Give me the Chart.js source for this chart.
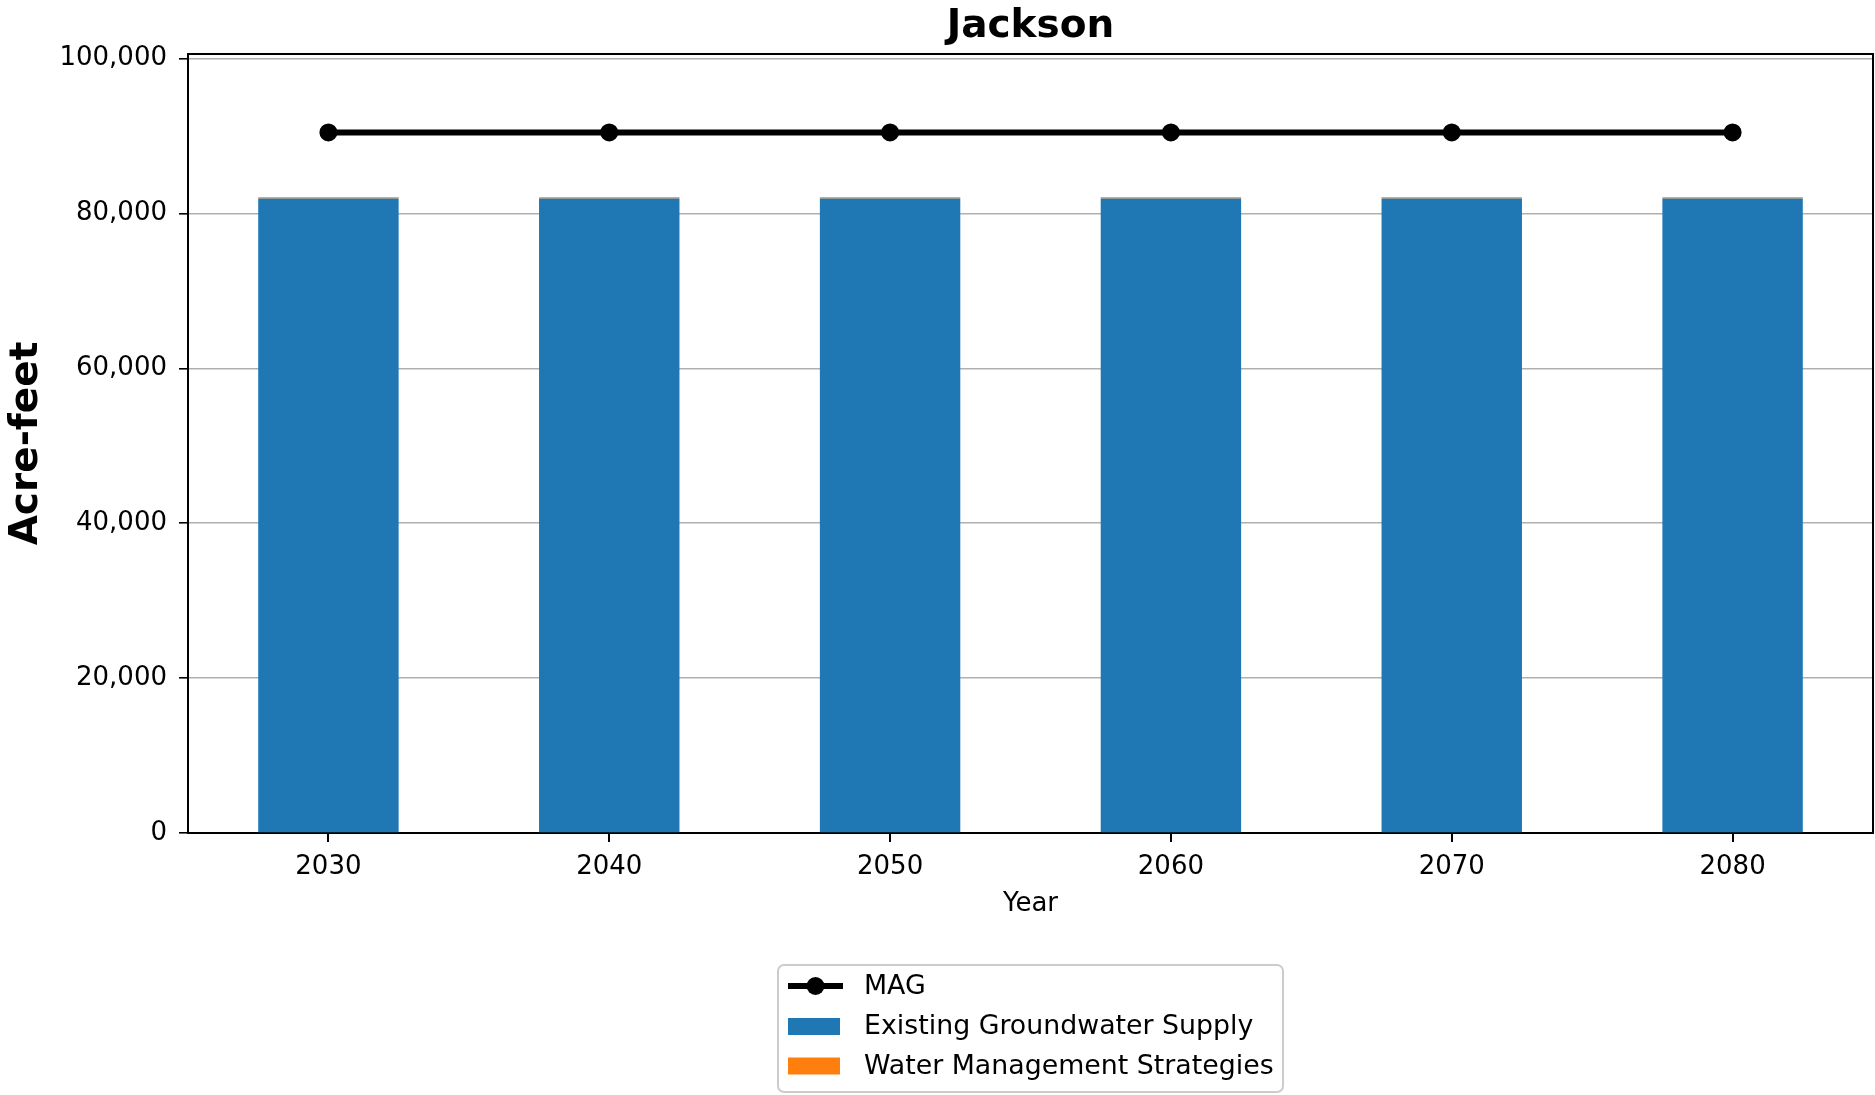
<!DOCTYPE html>
<html>
<head>
<meta charset="utf-8">
<title>Jackson</title>
<script src="https://cdn.jsdelivr.net/npm/chart.js@4.4.0/dist/chart.umd.min.js"></script>
<style>
  html, body { margin: 0; padding: 0; background: #fff; }
  #wrap { width: 1875px; height: 1095px; }
</style>
</head>
<body>
<div id="wrap"><canvas id="chart" width="1875" height="1095"></canvas></div>
<script>
// Chart data
const chartTitle = 'Jackson';
const years = ['2030', '2040', '2050', '2060', '2070', '2080'];
const existingSupply = [81950, 81950, 81950, 81950, 81950, 81950];
const strategies = [150, 150, 150, 150, 150, 150];
const mag = [90470, 90470, 90470, 90470, 90470, 90470];
const yTicks = [0, 20000, 40000, 60000, 80000, 100000];

const FONT = '"DejaVu Sans", "Liberation Sans", sans-serif';

// Title, top/right spines and the boxed legend under the plot
const extrasPlugin = {
    id: 'extras',
    afterDraw(chart) {
        const { ctx, chartArea: a } = chart;
        const cx = (a.left + a.right) / 2;
        ctx.save();

        ctx.fillStyle = '#000';
        ctx.font = 'bold 39px ' + FONT;
        ctx.textAlign = 'center';
        ctx.textBaseline = 'middle';
        ctx.fillText(chartTitle, cx, 27);

        ctx.strokeStyle = '#000';
        ctx.lineWidth = 2;
        ctx.beginPath();
        ctx.moveTo(a.left, a.top);
        ctx.lineTo(a.right, a.top);
        ctx.lineTo(a.right, a.bottom);
        ctx.stroke();

        // legend box
        const bw = 505, bh = 127;
        const bx = cx - bw / 2, by = 965;
        ctx.beginPath();
        ctx.roundRect(bx, by, bw, bh, 6);
        ctx.fillStyle = 'rgba(255,255,255,0.8)';
        ctx.fill();
        ctx.strokeStyle = '#cccccc';
        ctx.lineWidth = 2;
        ctx.stroke();

        const rows = [986, 1026.5, 1066];
        const hx = bx + 10, hw = 55;
        ctx.font = '26.8px ' + FONT;
        ctx.textAlign = 'left';
        ctx.textBaseline = 'middle';
        const order = [2, 0, 1]; // MAG first, then the bars
        order.forEach((di, i) => {
            const ds = chart.data.datasets[di];
            const y = rows[i];
            if (ds.type === 'line') {
                ctx.strokeStyle = ds.borderColor;
                ctx.lineWidth = ds.borderWidth;
                ctx.beginPath();
                ctx.moveTo(hx, y);
                ctx.lineTo(hx + hw, y);
                ctx.stroke();
                ctx.fillStyle = ds.pointBackgroundColor;
                ctx.beginPath();
                ctx.arc(hx + hw / 2, y, ds.pointRadius, 0, Math.PI * 2);
                ctx.fill();
            } else {
                ctx.fillStyle = ds.backgroundColor;
                ctx.fillRect(hx, y - 8.5, 52, 17);
            }
            ctx.fillStyle = '#000';
            ctx.fillText(ds.label, bx + 86, y + 1);
        });

        ctx.restore();
    }
};

const ctx = document.getElementById('chart').getContext('2d');
new Chart(ctx, {
    data: {
        labels: years,
        datasets: [
            {
                type: 'bar',
                label: 'Existing Groundwater Supply',
                data: existingSupply,
                backgroundColor: '#1f77b4',
                borderWidth: 0,
                barPercentage: 0.5,
                categoryPercentage: 1.0,
                stack: 'supply',
                order: 2
            },
            {
                type: 'bar',
                label: 'Water Management Strategies',
                data: strategies,
                backgroundColor: '#ff7f0e',
                borderWidth: 0,
                barPercentage: 0.5,
                categoryPercentage: 1.0,
                stack: 'supply',
                order: 2
            },
            {
                type: 'line',
                label: 'MAG',
                data: mag,
                borderColor: '#000',
                borderWidth: 6,
                pointRadius: 9,
                pointBackgroundColor: '#000',
                pointBorderWidth: 0,
                fill: false,
                stack: 'mag',
                order: 0
            }
        ]
    },
    options: {
        responsive: false,
        devicePixelRatio: 1,
        animation: false,
        layout: { autoPadding: false, padding: { top: 54, right: 2, bottom: 167, left: 0 } },
        plugins: {
            legend: { display: false },
            title: { display: false },
            tooltip: { enabled: false }
        },
        scales: {
            x: {
                stacked: true,
                offset: true,
                z: 1,
                afterFit: (scale) => {
                    scale.height = 95;
                    scale.paddingLeft = 0;
                    scale.paddingRight = 0;
                },
                grid: {
                    offset: false,
                    drawOnChartArea: false,
                    drawTicks: true,
                    tickLength: 9,
                    tickColor: '#000',
                    lineWidth: 2
                },
                border: { color: '#000', width: 2 },
                ticks: {
                    color: '#000',
                    padding: 10,
                    font: { family: FONT, size: 26 }
                },
                title: {
                    display: true,
                    text: 'Year',
                    color: '#000',
                    font: { family: FONT, size: 26 },
                    padding: { top: 0, bottom: 8 }
                }
            },
            y: {
                stacked: true,
                min: 0,
                max: 100600,
                z: 1,
                afterFit: (scale) => { scale.width = 188; },
                afterBuildTicks: (scale) => {
                    scale.ticks = yTicks.map(v => ({ value: v }));
                },
                grid: {
                    color: '#b0b0b0',
                    lineWidth: 1.6,
                    tickLength: 9,
                    tickColor: '#000'
                },
                border: { color: '#000', width: 2 },
                ticks: {
                    color: '#000',
                    padding: 12,
                    font: { family: FONT, size: 26 },
                    callback: (v) => Number(v).toLocaleString('en-US')
                },
                title: {
                    display: true,
                    text: 'Acre-feet',
                    color: '#000',
                    font: { family: FONT, size: 39, weight: 'bold' },
                    padding: { top: 3, bottom: 0 }
                }
            }
        }
    },
    plugins: [extrasPlugin]
});
</script>
</body>
</html>
